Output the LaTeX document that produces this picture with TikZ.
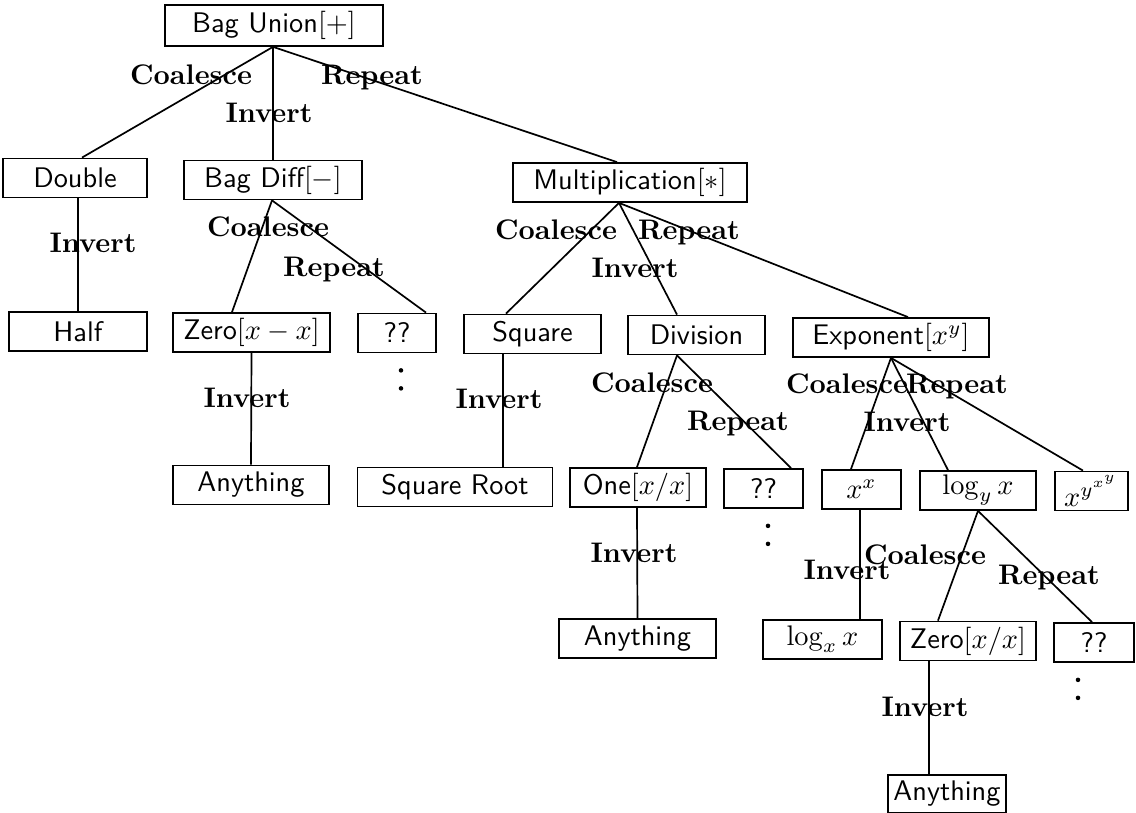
\documentclass[tikz,border=0pt]{standalone}
\usepackage{tikz}
\usetikzlibrary{calc}
\tikzset{
  opbox/.style={draw, font=\sffamily, inner sep=0pt, minimum height=13.8pt, minimum width=#1*0.353pt},
  lab/.style={font=\bfseries, inner sep=0pt, anchor=base}
}

\begin{document}
\begin{tikzpicture}[x=0.353pt, y=-0.353pt, line width=0.6pt]
\useasboundingbox (0,0) rectangle (1136,813);
% operators
\node[opbox=218, minimum height=14.5pt] (bu) at (274,25.5) {Bag Union$[+]$};
\node[opbox=144] (dbl) at (75,178) {Double};
\node[opbox=178] (bd) at (273,180) {Bag Diff$[-]$};
\node[opbox=234] (mul) at (630,182.5) {Multiplication$[*]$};
\node[opbox=138] (half) at (78,331.5) {Half};
\node[opbox=157] (zeroa) at (251.5,332.5) {Zero$[x-x]$};
\node[opbox=78] (qa) at (397,333) {??};
\node[opbox=137] (sq) at (532.5,334) {Square};
\node[opbox=137] (div) at (696.5,335) {Division};
\node[opbox=196] (exp) at (891,337.5) {Exponent$[x^y]$};
\node[opbox=156] (anya) at (251,485) {Anything};
\node[opbox=195] (sqr) at (455,487) {Square Root};
\node[opbox=136] (one) at (638,487.5) {One$[x/x]$};
\node[opbox=79] (qb) at (763.5,488.5) {??};
\node[opbox=79] (xx) at (861.5,489.5) {$x^x$};
\node[opbox=116] (logy) at (978,490.5) {$\log_y x$};
\node[opbox=73] (xyxy) at (1091.5,491) {$x^{y^{x^y}}$};
\node[opbox=157] (anyb) at (637.5,638.5) {Anything};
\node[opbox=119] (logx) at (822.5,639.5) {$\log_x x$};
\node[opbox=136] (zerob) at (968,641) {Zero$[x/x]$};
\node[opbox=80] (qc) at (1094,642.5) {??};
\node[opbox=118, minimum height=13.4pt] (anyc) at (947,794) {Anything};

% branches
\foreach \p/\a/\c/\b in {bu/-1/dbl/7, bu/-1/bd/0, bu/-1/mul/-13, dbl/3/half/0,
    bd/-1/zeroa/-19.5, bd/-1/qa/29, mul/-11/sq/-26.5, mul/-11/div/-19.5,
    mul/-11/exp/17, zeroa/0/anya/0, sq/-29.5/sqr/48, div/-19.5/one/-1,
    div/-19.5/qb/27.5, exp/0/xx/-10.5, exp/0/logy/-30, exp/0/xyxy/-8.5,
    one/-1/anyb/0, xx/-1.5/logx/37.5, logy/0/zerob/-30, logy/0/qc/-2,
    zerob/-39/anyc/-18}
  \draw ($(\p.south)+(\a,0)$) -- ($(\c.north)+(\b,0)$);

% continuation dots
\foreach \n/\dx in {qa/4, qb/4.5, qc/-16}
  \foreach \dy in {17,35}
    \fill ($(\n.south)+(\dx,\dy)$) circle (0.8pt);

% rule names
\node[lab] (buc) at (191,85) {Coalesce};
\node[lab] (bui) at (269,123) {Invert};
\node[lab] (bur) at (372,85) {Repeat};
\node[lab] (dbli) at (93,253) {Invert};
\node[lab] (bdc) at (268,237) {Coalesce};
\node[lab] (bdr) at (334,277) {Repeat};
\node[lab] (mulc) at (556,240) {Coalesce};
\node[lab] (mulr) at (689,240) {Repeat};
\node[lab] (muli) at (635,278) {Invert};
\node[lab] (sqi) at (499,409) {Invert};
\node[lab] (divc) at (652,393) {Coalesce};
\node[lab] (divr) at (738,431) {Repeat};
\node[lab] (expc) at (847,394) {Coalesce};
\node[lab] (expr) at (957,394) {Repeat};
\node[lab] (expi) at (907,432) {Invert};
\node[lab] (zeroai) at (247,408) {Invert};
\node[lab] (onei) at (634,563) {Invert};
\node[lab] (xxi) at (847,580) {Invert};
\node[lab] (logyc) at (925,565) {Coalesce};
\node[lab] (logyr) at (1049,585) {Repeat};
\node[lab] (zerobi) at (925,717) {Invert};
\end{tikzpicture}
\end{document}
